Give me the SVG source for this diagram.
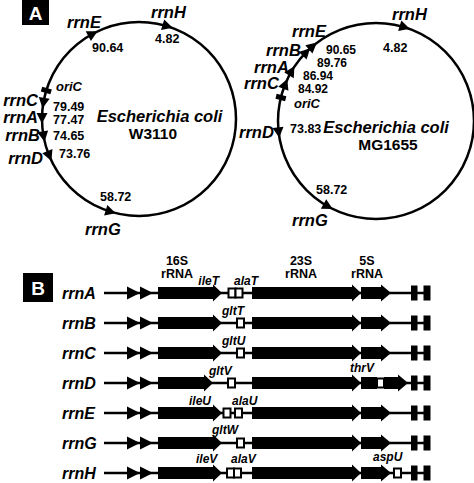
<svg xmlns="http://www.w3.org/2000/svg" width="474" height="483" viewBox="0 0 474 483">
<style>
text{font-family:"Liberation Sans",Arial,sans-serif;font-weight:bold;fill:#000}
.lab{font-size:16.5px;font-style:italic}
.labB{font-size:16px;font-style:italic}
.num{font-size:12.5px}
.numS{font-size:12px}
.ori{font-size:13px;font-style:italic}
.sp{font-size:16.5px;font-style:italic}
.st{font-size:15.5px}
.trna{font-size:12px;font-style:italic}
.rr{font-size:12.5px}
.panel{font-size:19px;fill:#fff}
.circ{fill:none;stroke:#000;stroke-width:2.5}
.ln{stroke:#000;stroke-width:2.5}
.box{fill:#fff;stroke:#000;stroke-width:2}
.blk{fill:#000}
</style>
<defs>
<path id="tri" d="M5.5,0 L-5,-5.5 L-5,5.5 Z" fill="#000"/>
<rect id="ori" x="-5" y="-2.5" width="10" height="5" fill="#000"/>
<g id="lead">
<line x1="104" y1="0" x2="430" y2="0" class="ln"/>
<polygon points="127,-6.5 140,0 127,6.5" class="blk"/>
<polygon points="140,-6.5 153,0 140,6.5" class="blk"/>
</g>
<polygon id="s16" points="158,-6 213,-6 213,-8.5 222,0 213,8.5 213,6 158,6" class="blk"/>
<polygon id="s23" points="252,-6 352,-6 352,-8.5 361,0 352,8.5 352,6 252,6" class="blk"/>
<polygon id="s5" points="361,-6 381,-6 381,-8.5 391,0 381,8.5 381,6 361,6" class="blk"/>
<g id="term">
<rect x="411" y="-7.5" width="6.5" height="15" class="blk"/>
<rect x="423.5" y="-7.5" width="7" height="15" class="blk"/>
</g>
</defs>
<rect width="474" height="483" fill="#fff"/>

<g id="panelA">
<g id="labelA"><rect x="22" y="-2" width="27" height="27" fill="#000"/><text x="35.5" y="19.5" text-anchor="middle" class="panel">A</text></g>

<g id="w3110">
<circle cx="139" cy="119" r="97" class="circ"/>
<text x="159.5" y="122" text-anchor="middle" class="sp">Escherichia coli</text>
<text x="153" y="139" text-anchor="middle" class="st">W3110</text>
<use href="#ori" transform="translate(46.3,90.5) rotate(-162.9)"/>
<text x="56" y="91" class="ori">oriC</text>
<g id="w_rrnH"><use href="#tri" transform="translate(167.4,26.2) rotate(17)"/><text x="151" y="18" class="lab">rrnH</text><text x="155" y="43" class="num">4.82</text></g>
<g id="w_rrnE"><use href="#tri" transform="translate(92.7,33.8) rotate(-28.5)"/><text x="67" y="28" class="lab">rrnE</text><text x="92" y="52" class="num">90.64</text></g>
<g id="w_rrnC"><use href="#tri" transform="translate(43.4,102.8) rotate(99.6)"/><text x="38" y="106" text-anchor="end" class="lab">rrnC</text><text x="53" y="111" class="num">79.49</text></g>
<g id="w_rrnA"><use href="#tri" transform="translate(42,118) rotate(90.6)"/><text x="38" y="123" text-anchor="end" class="lab">rrnA</text><text x="53" y="124" class="num">77.47</text></g>
<g id="w_rrnB"><use href="#tri" transform="translate(43.6,136.3) rotate(79.7)"/><text x="40" y="141" text-anchor="end" class="lab">rrnB</text><text x="53" y="140" class="num">74.65</text></g>
<g id="w_rrnD"><use href="#tri" transform="translate(49.3,155.8) rotate(67.7)"/><text x="43" y="164" text-anchor="end" class="lab">rrnD</text><text x="59" y="158" class="num">73.76</text></g>
<g id="w_rrnG"><use href="#tri" transform="translate(110.5,211.7) rotate(17.1)"/><text x="85" y="235" class="lab">rrnG</text><text x="100" y="201" class="num">58.72</text></g>
</g>

<g id="mg1655">
<circle cx="376" cy="121" r="98" class="circ"/>
<text x="386" y="133" text-anchor="middle" class="sp">Escherichia coli</text>
<text x="388" y="150" text-anchor="middle" class="st">MG1655</text>
<use href="#ori" transform="translate(280.9,97.5) rotate(-166.1)"/>
<text x="294" y="108" class="ori">oriC</text>
<g id="m_rrnH"><use href="#tri" transform="translate(404.5,27.2) rotate(16.9)"/><text x="392" y="20" class="lab">rrnH</text><text x="383" y="52" class="num">4.82</text></g>
<g id="m_rrnE"><use href="#tri" transform="translate(312.7,46.1) rotate(-40.2)"/><text x="292" y="37" class="lab">rrnE</text><text x="326" y="54" class="numS">90.65</text></g>
<g id="m_rrnB"><use href="#tri" transform="translate(306.2,52.2) rotate(-45.4)"/><text x="266" y="56" class="lab">rrnB</text><text x="317" y="67" class="numS">89.76</text></g>
<g id="m_rrnA"><use href="#tri" transform="translate(291.6,71.1) rotate(-59.4)"/><text x="254" y="73" class="lab">rrnA</text><text x="303" y="80" class="numS">86.94</text></g>
<g id="m_rrnC"><use href="#tri" transform="translate(285.2,84.1) rotate(-67.9)"/><text x="244" y="89" class="lab">rrnC</text><text x="298" y="93" class="numS">84.92</text></g>
<g id="m_rrnD"><use href="#tri" transform="translate(278.6,132.3) rotate(83.4)"/><text x="239" y="138" class="lab">rrnD</text><text x="290" y="133" class="num">73.83</text></g>
<g id="m_rrnG"><use href="#tri" transform="translate(327.9,206.4) rotate(29.4)"/><text x="292" y="226" class="lab">rrnG</text><text x="316" y="194" class="num">58.72</text></g>
</g>
</g>

<g id="panelB">
<g id="labelB"><rect x="23" y="273" width="30" height="29" fill="#000"/><text x="38" y="294.5" text-anchor="middle" class="panel">B</text></g>
<g id="headers">
<text x="177" y="265" text-anchor="middle" class="rr">16S</text><text x="177" y="278" text-anchor="middle" class="rr">rRNA</text>
<text x="301" y="265" text-anchor="middle" class="rr">23S</text><text x="301" y="278" text-anchor="middle" class="rr">rRNA</text>
<text x="367" y="265" text-anchor="middle" class="rr">5S</text><text x="367" y="278" text-anchor="middle" class="rr">rRNA</text>
</g>

<g id="op_rrnA" transform="translate(0,293)">
<text x="62" y="5.5" class="labB">rrnA</text>
<use href="#lead"/><use href="#s16"/><use href="#s23"/><use href="#s5"/><use href="#term"/>
<rect x="228.5" y="-4.5" width="7" height="9" class="box"/><rect x="235.5" y="-4.5" width="7" height="9" class="box"/>
<text x="219" y="-8" text-anchor="end" class="trna">ileT</text><text x="234" y="-8" class="trna">alaT</text>
</g>

<g id="op_rrnB" transform="translate(0,323)">
<text x="62" y="5.5" class="labB">rrnB</text>
<use href="#lead"/><use href="#s16"/><use href="#s23"/><use href="#s5"/><use href="#term"/>
<rect x="237" y="-4.5" width="7" height="9" class="box"/>
<text x="222" y="-8" class="trna">gltT</text>
</g>

<g id="op_rrnC" transform="translate(0,353)">
<text x="62" y="5.5" class="labB">rrnC</text>
<use href="#lead"/><use href="#s16"/><use href="#s23"/><use href="#s5"/><use href="#term"/>
<rect x="237" y="-4.5" width="7" height="9" class="box"/>
<text x="222" y="-8" class="trna">gltU</text>
</g>

<g id="op_rrnD" transform="translate(0,383)">
<text x="62" y="5.5" class="labB">rrnD</text>
<use href="#lead"/>
<polygon points="158,-6 204,-6 204,-8.5 213,0 204,8.5 204,6 158,6" class="blk"/>
<use href="#s23"/>
<polygon points="361,-6 377,-6 377,6 361,6" class="blk"/>
<polygon points="384,-6 398,-6 398,-8.5 408,0 398,8.5 398,6 384,6" class="blk"/>
<use href="#term"/>
<rect x="228" y="-4.5" width="7" height="9" class="box"/>
<rect x="377" y="-4.5" width="7" height="9" class="box"/>
<text x="209" y="-8" class="trna">gltV</text><text x="350" y="-11" class="trna">thrV</text>
</g>

<g id="op_rrnE" transform="translate(0,413)">
<text x="62" y="5.5" class="labB">rrnE</text>
<use href="#lead"/><use href="#s16"/><use href="#s23"/><use href="#s5"/><use href="#term"/>
<rect x="223.5" y="-4.5" width="7" height="9" class="box"/><rect x="235" y="-4.5" width="7" height="9" class="box"/>
<text x="189" y="-8" class="trna">ileU</text><text x="232" y="-8" class="trna">alaU</text>
</g>

<g id="op_rrnG" transform="translate(0,443)">
<text x="62" y="5.5" class="labB">rrnG</text>
<use href="#lead"/><use href="#s16"/><use href="#s23"/><use href="#s5"/><use href="#term"/>
<rect x="237" y="-4.5" width="7" height="9" class="box"/>
<text x="212" y="-9" class="trna">gltW</text>
</g>

<g id="op_rrnH" transform="translate(0,473)">
<text x="62" y="5.5" class="labB">rrnH</text>
<use href="#lead"/><use href="#s16"/><use href="#s23"/><use href="#s5"/><use href="#term"/>
<rect x="227" y="-4.5" width="7" height="9" class="box"/><rect x="234" y="-4.5" width="7" height="9" class="box"/>
<rect x="394" y="-4.5" width="7" height="9" class="box"/>
<text x="196" y="-10" class="trna">ileV</text><text x="231" y="-10" class="trna">alaV</text><text x="373" y="-12" class="trna">aspU</text>
</g>
</g>
</svg>
